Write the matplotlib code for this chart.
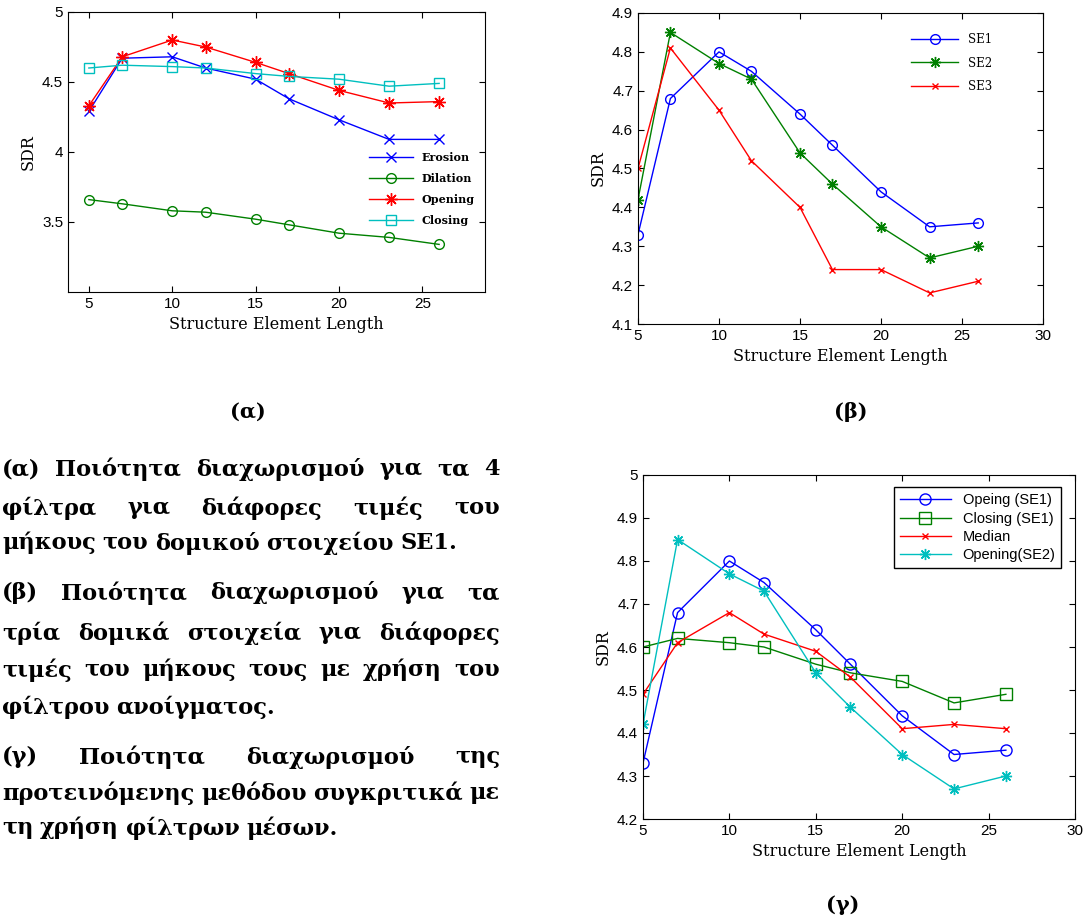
import numpy as np
import matplotlib.pyplot as plt

# structure element lengths
x = [5, 7, 10, 12, 15, 17, 20, 23, 26]

# (a) four filters, SE1
erosion = [4.29, 4.67, 4.68, 4.60, 4.52, 4.38, 4.23, 4.09, 4.09]
dilation = [3.66, 3.63, 3.58, 3.57, 3.52, 3.48, 3.42, 3.39, 3.34]
opening = [4.33, 4.68, 4.80, 4.75, 4.64, 4.56, 4.44, 4.35, 4.36]
closing = [4.60, 4.62, 4.61, 4.60, 4.56, 4.54, 4.52, 4.47, 4.49]

# (b) opening filter with three structure elements
se1 = [4.33, 4.68, 4.80, 4.75, 4.64, 4.56, 4.44, 4.35, 4.36]
se2 = [4.42, 4.85, 4.77, 4.73, 4.54, 4.46, 4.35, 4.27, 4.30]
se3 = [4.50, 4.81, 4.65, 4.52, 4.40, 4.24, 4.24, 4.18, 4.21]

# (c) proposed method vs median filter
median = [4.49, 4.61, 4.68, 4.63, 4.59, 4.53, 4.41, 4.42, 4.41]

BLUE, GREEN, RED, CYAN = '#0000ff', '#008000', '#ff0000', '#00bfbf'
SANS = 'Liberation Sans'
SERIF = 'DejaVu Serif'
AST = (8, 2, 0)  # matlab-style asterisk

W, H = 1085, 921
fig = plt.figure(figsize=(W / 100, H / 100), dpi=100)


def box(l, t, r, b):
    return [l / W, 1 - b / H, (r - l) / W, (b - t) / H]


def style(ax):
    ax.tick_params(direction='in', top=True, right=True, labelsize=11, length=4)
    for lab in ax.get_xticklabels() + ax.get_yticklabels():
        lab.set_fontfamily(SANS)
    ax.set_xlabel('Structure Element Length', family=SERIF, fontsize=11.5, labelpad=4)
    ax.set_ylabel('SDR', family=SERIF, fontsize=11.5)


# (a)
ax1 = fig.add_axes(box(68, 12, 485, 292))
ax1.plot(x, erosion, '-x', color=BLUE, lw=1, ms=7, label='Erosion')
ax1.plot(x, dilation, '-o', color=GREEN, lw=1, ms=7, mfc='none', label='Dilation')
ax1.plot(x, opening, '-', marker=AST, color=RED, lw=1, ms=9, label='Opening')
ax1.plot(x, closing, '-s', color=CYAN, lw=1, ms=7, mfc='none', label='Closing')
ax1.set_xlim(3.75, 28.75)
ax1.set_ylim(3.0, 5.0)
ax1.set_xticks([5, 10, 15, 20, 25])
ax1.set_yticks([3.5, 4, 4.5, 5])
ax1.set_yticklabels(['3.5', '4', '4.5', '5'])
style(ax1)
ax1.legend(loc='lower right', bbox_to_anchor=(1.0, 0.2), frameon=False,
           prop={'family': SERIF, 'size': 8, 'weight': 'bold'},
           handlelength=4, labelspacing=0.9)

# (b)
ax2 = fig.add_axes(box(638, 13, 1043, 324))
ax2.plot(x, se1, '-o', color=BLUE, lw=1, ms=7, mfc='none', label='SE1')
ax2.plot(x, se2, '-', marker=AST, color=GREEN, lw=1, ms=8, label='SE2')
ax2.plot(x, se3, '-x', color=RED, lw=1, ms=4, label='SE3')
ax2.set_xlim(5, 30)
ax2.set_ylim(4.1, 4.9)
ax2.set_xticks([5, 10, 15, 20, 25, 30])
ax2.set_yticks(np.round(np.arange(4.1, 4.95, 0.1), 1))
style(ax2)
ax2.legend(loc='upper right', bbox_to_anchor=(0.9, 0.97), frameon=False,
           prop={'family': SERIF, 'size': 8.5},
           handlelength=4, labelspacing=0.9)

# (c)
ax3 = fig.add_axes(box(643, 475, 1075, 819))
ax3.plot(x, se1, '-o', color=BLUE, lw=1, ms=8, mfc='none', label='Opeing (SE1)')
ax3.plot(x, closing, '-s', color=GREEN, lw=1, ms=8, mfc='none', label='Closing (SE1)')
ax3.plot(x, median, '-x', color=RED, lw=1, ms=4, label='Median')
ax3.plot(x, se2, '-', marker=AST, color=CYAN, lw=1, ms=8, label='Opening(SE2)')
ax3.set_xlim(5, 30)
ax3.set_ylim(4.2, 5.0)
ax3.set_xticks([5, 10, 15, 20, 25, 30])
ax3.set_yticks(np.round(np.arange(4.2, 5.05, 0.1), 1))
ax3.set_yticklabels(['4.2', '4.3', '4.4', '4.5', '4.6', '4.7', '4.8', '4.9', '5'])
style(ax3)
leg = ax3.legend(loc='upper right', bbox_to_anchor=(0.985, 0.985), fancybox=False,
                 framealpha=1, edgecolor='black',
                 prop={'family': SANS, 'size': 10.5}, handlelength=3.5,
                 labelspacing=0.3, borderpad=0.4)
leg.get_frame().set_linewidth(1)

# panel captions
cap = dict(family=SERIF, fontsize=15, weight='bold', ha='center', va='center')
fig.text(248 / W, 1 - 412 / H, '(α)', **cap)
fig.text(851 / W, 1 - 412 / H, '(β)', **cap)
fig.text(843 / W, 1 - 905 / H, '(γ)', **cap)

# justified caption paragraphs
paras = [
    ['(α) Ποιότητα διαχωρισμού για τα 4',
     'φίλτρα για διάφορες τιμές του',
     'μήκους του δομικού στοιχείου SE1.'],
    ['(β) Ποιότητα διαχωρισμού για τα',
     'τρία δομικά στοιχεία για διάφορες',
     'τιμές του μήκους τους με χρήση του',
     'φίλτρου ανοίγματος.'],
    ['(γ) Ποιότητα διαχωρισμού της',
     'προτεινόμενης μεθόδου συγκριτικά με',
     'τη χρήση φίλτρων μέσων.'],
]
line_y = [[469, 508, 543], [593, 633, 670, 707], [757, 793, 828]]
x0, x1 = 2, 500
txt = dict(family=SERIF, fontsize=16.2, weight='bold', va='center', ha='left')

renderer = fig.canvas.get_renderer()
for lines, ys in zip(paras, line_y):
    for i, (line, py) in enumerate(zip(lines, ys)):
        words = line.split(' ')
        objs = [fig.text(0, 1 - py / H, w, **txt) for w in words]
        widths = [o.get_window_extent(renderer).width for o in objs]
        if i == len(lines) - 1:
            gap = renderer.points_to_pixels(txt['fontsize']) * 0.3
        else:
            gap = (x1 - x0 - sum(widths)) / (len(words) - 1)
        pos = x0
        for o, w in zip(objs, widths):
            o.set_x(pos / W)
            pos += w + gap

fig.savefig('out.png', dpi=100)
